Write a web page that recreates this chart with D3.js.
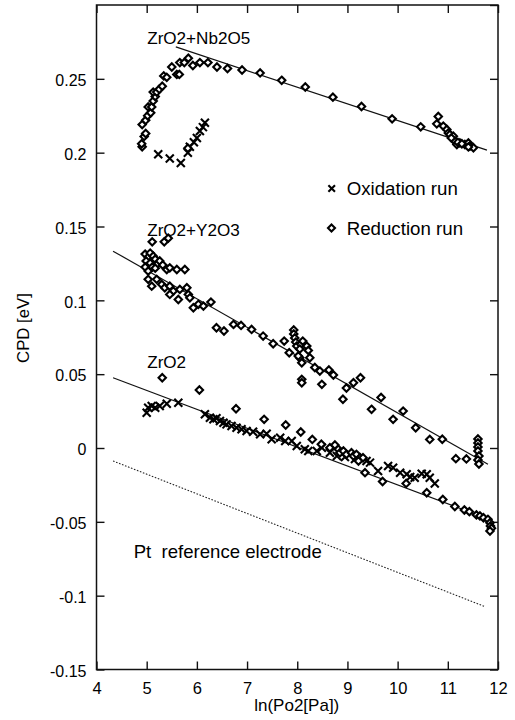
<!DOCTYPE html>
<html><head><meta charset="utf-8">
<script src="https://cdn.jsdelivr.net/npm/d3@7"></script>
<style>
html,body{margin:0;padding:0;background:#fff;}
svg text{font-family:"Liberation Sans",Arial,Helvetica,sans-serif;fill:#000;}
</style></head>
<body>
<svg id="chart" width="515" height="720"></svg>
<script>
// ---- data (x = ln(Po2[Pa]), y = CPD [eV]) ----
const xTicks = [4,5,6,7,8,9,10,11,12];
const xTickLabels = ["4","5","6","7","8","9","10","11","12"];
const yTicks = [-0.15,-0.1,-0.05,0,0.05,0.1,0.15,0.2,0.25];
const yTickLabels = ["-0.15","-0.1","-0.05","0","0.05","0.1","0.15","0.2","0.25"];

const nbReduction = [
 [4.91,0.204],[4.90,0.206],[4.95,0.211],[4.98,0.213],[4.91,0.219],[4.98,0.222],[5.02,0.225],
 [5.03,0.231],[5.08,0.227],[5.10,0.231],[5.13,0.235],[5.17,0.238],[5.13,0.241],[5.20,0.241],
 [5.25,0.243],[5.31,0.245],[5.34,0.252],[5.40,0.251],[5.50,0.258],[5.60,0.253],[5.65,0.253],
 [5.66,0.261],[5.75,0.261],[5.83,0.264],[5.92,0.259],[5.82,0.203],[6.06,0.261],[6.22,0.261],
 [6.40,0.258],[6.61,0.257],[6.90,0.256],[7.26,0.254],[7.69,0.249],[8.16,0.2445],[8.71,0.2376],
 [9.28,0.2313],[9.89,0.2229],[10.46,0.2175],[10.81,0.2245],[10.78,0.2195],[10.91,0.218],
 [10.98,0.2157],[11.01,0.2134],[11.04,0.2123],[11.11,0.2112],[11.14,0.2078],[11.18,0.2055],
 [11.24,0.2066],[11.34,0.2055],[11.41,0.2066],[11.44,0.2044],[11.51,0.2033],[11.41,0.2039],
 [11.07,0.2100],[11.20,0.2070],[11.28,0.2060]
];
const nbOxidation = [
 [5.23,0.199],[5.46,0.196],[5.68,0.193],[5.82,0.200],[5.86,0.204],[5.94,0.207],
 [6.00,0.210],[6.06,0.2146],[6.12,0.2173],[6.16,0.2203]
];
const yReduction = [
 [5.11,0.1396],[5.35,0.1396],[5.43,0.1421],[4.97,0.1313],[5.03,0.1293],[5.07,0.1320],[5.13,0.1299],
 [4.99,0.1266],[5.07,0.1252],[5.17,0.1279],[5.11,0.1225],[4.97,0.1225],[5.03,0.1198],[5.21,0.1245],
 [5.26,0.1266],[5.17,0.1218],[5.32,0.1239],[5.40,0.1209],[5.46,0.1220],[5.60,0.1209],[5.76,0.1209],
 [5.03,0.1142],[5.10,0.1096],[5.20,0.1142],[5.30,0.1108],[5.36,0.1085],[5.46,0.1096],[5.53,0.1063],
 [5.66,0.1074],[5.80,0.1085],[5.83,0.1040],[5.46,0.1040],[5.63,0.1006],[5.86,0.1017],[5.93,0.0950],
 [6.03,0.0973],[6.13,0.0961],[6.28,0.0988],[6.39,0.0814],[6.54,0.0792],[6.73,0.0837],[6.88,0.0830],
 [7.09,0.0803],[7.32,0.0758],[7.52,0.0706],[7.74,0.0724],[7.84,0.0645],[7.93,0.0799],[7.93,0.0772],
 [7.95,0.0745],[7.97,0.0717],[7.99,0.0690],[8.07,0.0702],[8.11,0.0724],[8.19,0.0690],[8.22,0.0661],
 [8.05,0.0670],[8.05,0.0611],[8.09,0.0577],[8.02,0.0623],[8.09,0.0465],[8.09,0.0442],[8.25,0.0611],
 [8.35,0.0545],[8.45,0.0521],[8.49,0.0431],[8.63,0.0528],[8.72,0.0494],[8.91,0.0330],[8.98,0.0406],
 [9.12,0.0442],[9.26,0.0476],[9.48,0.0262],[9.67,0.0342],[9.91,0.0194],[10.11,0.0250],[10.36,0.0137],
 [10.64,0.0058],[10.89,0.0059],[11.16,-0.0072],[11.37,-0.0074],[11.60,0.0061],[11.60,0.0034],
 [11.60,0.0007],[11.60,-0.0020],[11.62,-0.0054],[11.60,-0.0081],[11.62,-0.0108]
];
const zrReduction = [
 [5.31,0.0476],[6.05,0.0393],[6.78,0.0266],[7.34,0.0194],[7.77,0.0156],[8.07,0.0108],[8.30,0.0058],
 [8.48,0.0025],[8.65,0.0002],[8.75,0.0020],[8.82,-0.0009],[8.85,-0.0032],[8.92,-0.0020],[8.98,-0.0043],
 [9.08,-0.0032],[9.12,-0.0054],[9.18,-0.0043],[9.25,-0.0066],[9.31,-0.0066],[9.22,-0.0088],
 [9.35,-0.0167],[9.70,-0.0227],[10.17,-0.0240],[10.58,-0.0303],[10.90,-0.0349],[11.14,-0.0396],
 [11.33,-0.0420],[11.43,-0.0431],[11.57,-0.0453],[11.64,-0.0460],[11.71,-0.0472],[11.80,-0.0483],
 [11.84,-0.0506],[11.85,-0.0528],[11.87,-0.0543],[11.84,-0.0562]
];
const zrOxidation = [
 [5.00,0.0239],[5.03,0.0273],[5.10,0.0284],[5.17,0.0273],[5.26,0.0284],[5.40,0.0300],[5.63,0.0307],
 [6.16,0.0228],[6.26,0.0205],[6.33,0.0194],[6.39,0.0201],[6.46,0.0183],[6.53,0.0171],[6.59,0.0160],
 [6.69,0.0149],[6.79,0.0137],[6.89,0.0127],[6.99,0.0115],[7.12,0.0110],[7.26,0.0093],[7.39,0.0097],
 [7.49,0.0059],[7.66,0.0070],[7.76,0.0047],[7.89,0.0047],[7.99,0.0014],[8.15,-0.0009],[8.22,-0.0020],
 [8.39,-0.0020],[8.49,0.0002],[8.65,-0.0032],[8.79,-0.0054],[8.95,-0.0061],[9.15,-0.0074],
 [9.38,-0.0088],[9.45,-0.0099],[9.61,-0.0156],[9.81,-0.0122],[9.91,-0.0133],[10.05,-0.0167],
 [10.18,-0.0178],[10.25,-0.0196],[10.34,-0.0201],[10.48,-0.0174],[10.58,-0.0178],[10.64,-0.0201],
 [10.74,-0.0240]
];
const fitNb = [[5.58,0.2716],[11.78,0.2017]];
const fitY  = [[4.33,0.1333],[11.80,-0.011]];
const fitZr = [[4.33,0.0476],[11.80,-0.048]];
const ptRef = [[4.33,-0.0088],[11.74,-0.1074]];

const labels = [
 {text:"ZrO2+Nb2O5", x:5.01, y:0.2737},
 {text:"ZrO2+Y2O3",  x:5.01, y:0.1437},
 {text:"ZrO2",       x:5.01, y:0.0541},
 {text:"Pt  reference electrode", x:4.74, y:-0.0742}
];
const legendItems = [
 {text:"Oxidation run", kind:"x"},
 {text:"Reduction run", kind:"d"}
];

// ---- drawing ----
const svg = d3.select("#chart");
const L=96.5, R=498, T=5, B=669.5;
const x = d3.scaleLinear().domain([4,12]).range([L,R]);
const y = d3.scaleLinear().domain([-0.15,0.3]).range([B,T]);
const FONT = '"Liberation Sans",Arial,Helvetica,sans-serif';

// frame
svg.append("rect").attr("x",L).attr("y",T).attr("width",R-L).attr("height",B-T)
  .attr("fill","none").attr("stroke","#111").attr("stroke-width",1.5);

function styleAxis(g, fs){
  g.select(".domain").remove();
  g.selectAll(".tick line").attr("stroke","#111").attr("stroke-width",1.4);
  g.selectAll(".tick text").attr("font-size",fs).attr("font-family",FONT).attr("fill","#000");
}
const gl = svg.append("g").attr("transform",`translate(${L},0)`)
  .call(d3.axisLeft(y).tickValues(yTicks).tickSizeInner(-8).tickSizeOuter(0).tickPadding(10)
    .tickFormat((d,i)=>yTickLabels[i]));
styleAxis(gl,16);
gl.selectAll(".tick text").attr("dy","0.42em");
const gr = svg.append("g").attr("transform",`translate(${R},0)`)
  .call(d3.axisRight(y).tickValues(yTicks.concat([0.3])).tickSizeInner(-8).tickSizeOuter(0).tickFormat(""));
styleAxis(gr,16);
const gb = svg.append("g").attr("transform",`translate(0,${B})`)
  .call(d3.axisBottom(x).tickValues(xTicks).tickSizeInner(-8).tickSizeOuter(0).tickPadding(13)
    .tickFormat((d,i)=>xTickLabels[i]));
styleAxis(gb,16.5);
const gt = svg.append("g").attr("transform",`translate(0,${T})`)
  .call(d3.axisTop(x).tickValues(xTicks).tickSizeInner(-8).tickSizeOuter(0).tickFormat(""));
styleAxis(gt,16);

// axis titles
svg.append("text").attr("x",(L+R)/2-0.5).attr("y",711).attr("text-anchor","middle")
  .attr("font-size",17).text("ln(Po2[Pa])");
svg.append("text").attr("transform","translate(29,328) rotate(-90)").attr("text-anchor","middle")
  .attr("font-size",16.8).text("CPD [eV]");

// fit lines
const line = d3.line().x(d=>x(d[0])).y(d=>y(d[1]));
[fitNb,fitY,fitZr].forEach(f=>{
  svg.append("path").attr("d",line(f)).attr("fill","none").attr("stroke","#111").attr("stroke-width",1.2);
});
svg.append("path").attr("d",line(ptRef)).attr("fill","none").attr("stroke","#222")
  .attr("stroke-width",1.1).attr("stroke-dasharray","1.6,1.6");

// markers
function diamond(g, px, py, s){
  g.append("path").attr("d",`M${px},${py-s}L${px+s},${py}L${px},${py+s}L${px-s},${py}Z`)
    .attr("fill","#fff").attr("stroke","#000").attr("stroke-width",2.1);
}
function cross(g, px, py, s){
  g.append("path").attr("d",`M${px-s},${py-s}L${px+s},${py+s}M${px-s},${py+s}L${px+s},${py-s}`)
    .attr("fill","none").attr("stroke","#000").attr("stroke-width",2.1);
}
const gm = svg.append("g");
[nbOxidation, zrOxidation].forEach(arr=>arr.forEach(d=>cross(gm,x(d[0]),y(d[1]),4.0)));
[nbReduction, yReduction, zrReduction].forEach(arr=>arr.forEach(d=>diamond(gm,x(d[0]),y(d[1]),3.7)));

// annotations
labels.forEach(l=>{
  const fs = l.text.startsWith("Pt") ? 18.6 : 17.1;
  svg.append("text").attr("x",x(l.x)).attr("y",y(l.y)).attr("font-size",fs)
    .attr("xml:space","preserve").style("white-space","pre").text(l.text);
});

// legend
legendItems.forEach((it,i)=>{
  const cy = 188.5 + i*39.5;
  if(it.kind==="x") cross(svg,331.7,cy,3.3); else diamond(svg,331.5,cy,3.5);
  svg.append("text").attr("x",346.7).attr("y",cy+6.6).attr("font-size",18.7).text(it.text);
});
</script>
</body></html>
